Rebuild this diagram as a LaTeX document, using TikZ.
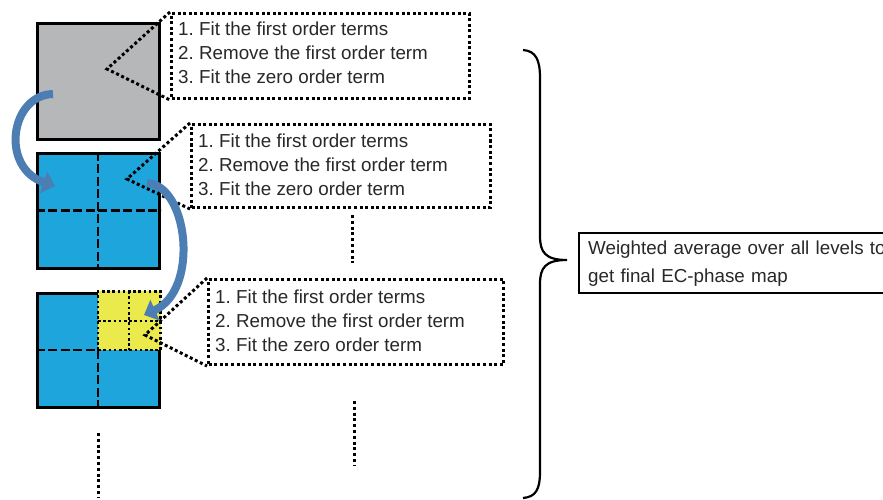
\documentclass[tikz,border=0pt]{standalone}
\usepackage{fontspec}
\setmainfont{Liberation Sans}
\usetikzlibrary{arrows.meta}
\frenchspacing
\definecolor{graysq}{RGB}{182,183,185}
\definecolor{bluesq}{RGB}{30,165,220}
\definecolor{yelsq}{RGB}{234,234,76}
\definecolor{arrowblue}{RGB}{76,126,180}
\definecolor{txt}{RGB}{40,40,40}
\tikzset{
  sq/.style={draw=black, line width=3pt, inner sep=0pt},
  dashln/.style={draw=black, line width=2.6pt, dash pattern=on 9pt off 3.5pt},
  dotln/.style={draw=black, line width=3pt, dash pattern=on 3pt off 2.6pt},
  dotsq/.style={draw=black, line width=2.6pt, dash pattern=on 2.6pt off 2.6pt},
  cbox/.style={dotln, inner sep=0pt, anchor=north west},
  ctext/.style={align=left, inner sep=0pt, text=txt, anchor=west,
    font=\fontsize{18.8pt}{24.2pt}\selectfont},
  fatarrow/.style={draw=arrowblue, line width=8pt, -{Triangle[width=22pt,length=12pt]}},
  ellip/.style={draw=black, line width=3pt, dash pattern=on 3pt off 2.8pt},
  brace/.style={draw=black, line width=2.2pt},
  fbox/.style={draw=black, line width=2.4pt, align=left, inner xsep=9pt, inner ysep=0pt,
    text=txt, font=\fontsize{18.8pt}{28pt}\selectfont, anchor=north west}
}
\begin{document}
\begin{tikzpicture}[x=1pt,y=-1pt]
\clip (0,0) rectangle (883,500);
\fill[white] (0,0) rectangle (883,500);

% squares
\node[sq, fill=graysq, minimum width=122pt, minimum height=116pt] (s1) at (98,82) {};
\node[sq, fill=bluesq, minimum width=122pt, minimum height=115pt] (s2) at (98,210.5) {};
\node[sq, fill=bluesq, minimum width=122pt, minimum height=114pt] (s3) at (98,350) {};

% square 2 dashed divisions
\draw[dashln] (s2.north) -- (s2.south);
\draw[dashln] (s2.west) -- (s2.east);

% square 3: yellow quadrant
\node[fill=yelsq, inner sep=0pt, minimum width=62.5pt, minimum height=58.5pt, anchor=south west] (q) at (s3.center) {};
\draw[dashln] (s3.west) -- (s3.center) -- (s3.south);
\draw[dotsq] (s3.center) rectangle (s3.north east);
\draw[dotsq] ([xshift=-0.6pt]q.north) -- ([xshift=-0.6pt]q.south);
\draw[dotsq] ([yshift=-0.6pt]q.west) -- ([yshift=-0.6pt]q.east);

% callout boxes
\node[cbox, minimum width=298pt, minimum height=85pt] (b1) at (170,12) {};
\node[cbox, minimum width=299pt, minimum height=83pt] (b2) at (190,123) {};
\node[cbox, minimum width=295pt, minimum height=85pt] (b3) at (207,278) {};
\node[ctext] (b1t) at ([xshift=8pt,yshift=3pt]b1.west)
  {1. Fit the first order terms\\2. Remove the first order term\\3. Fit the zero order term};
\node[ctext] (b2t) at ([xshift=8pt,yshift=1pt]b2.west)
  {1. Fit the first order terms\\2. Remove the first order term\\3. Fit the zero order term};
\node[ctext] (b3t) at ([xshift=8pt,yshift=1.5pt]b3.west)
  {1. Fit the first order terms\\2. Remove the first order term\\3. Fit the zero order term};

% callout pointers
\coordinate (t1) at (107,69);
\coordinate (t2) at (127,179);
\coordinate (t3) at (145,335);
\draw[dotln] (b1.north west) -- (t1) -- (b1.south west);
\draw[dotln] (b2.north west) -- (t2) -- (b2.south west);
\draw[dotln] (b3.north west) -- (t3) -- (b3.south west);

% curved arrows
\coordinate (a1s) at (53,94);
\coordinate (a1e) at (55,186);
\coordinate (a2s) at (147,183);
\coordinate (a2e) at (144,315);
\draw[fatarrow] (a1s) .. controls (10,95) and (0,168) .. (a1e);
\draw[fatarrow] (a2s) .. controls (188,185) and (200,290) .. (a2e);

% vertical ellipses
\coordinate (e1a) at (352,215); \coordinate (e1b) at (352,263);
\coordinate (e2a) at (354,401); \coordinate (e2b) at (354,465);
\coordinate (e3a) at (98,433);  \coordinate (e3b) at (98,498);
\draw[ellip] (e1a) -- (e1b);
\draw[ellip] (e2a) -- (e2b);
\draw[ellip] (e3a) -- (e3b);

% brace
\coordinate (brtop) at (523,50);
\coordinate (brtip) at (567,260);
\coordinate (brbot) at (523,498);
\draw[brace] (brtop) .. controls (536,51) and (540,60) .. (540,78)
  -- (540,236) .. controls (540,252) and (545,260) .. (brtip)
  .. controls (545,260) and (540,268) .. (540,284)
  -- (540,472) .. controls (540,489) and (536,497) .. (brbot);

% final box
\node[fbox, minimum height=60pt, text width=330pt] (fin) at (578,232)
  {\makebox[302pt][s]{Weighted average over all levels to}\\get final EC-phase map};
\end{tikzpicture}
\end{document}
